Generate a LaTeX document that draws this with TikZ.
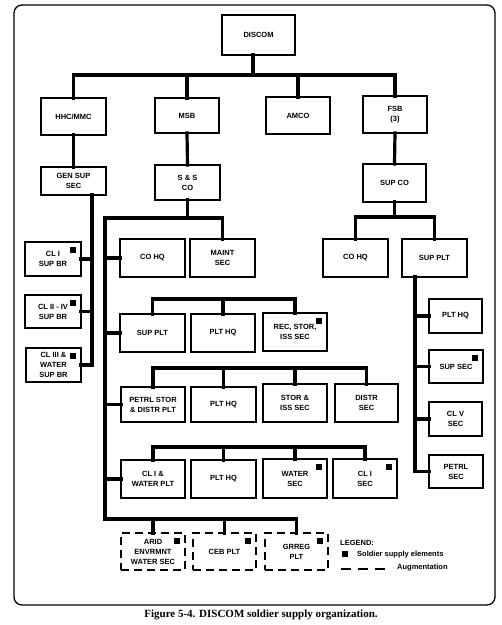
\documentclass[tikz,border=0pt]{standalone}
\usepackage{fontspec}
\setmainfont{Liberation Sans}
\newfontfamily\capfont{Liberation Serif}
\newcommand\orgbox[7][]{\node[box,#1,minimum width={(#5)-(#3)},minimum height={(#6)-(#4)}] (#2) at ({(#3+#5)/2},{(#4+#6)/2}) {#7};}
\newcommand\orgmark[1]{\fill (#1.north east) ++(-5,5) rectangle ++(-6,6);}
\begin{document}
\begin{tikzpicture}[x=1pt,y=-1pt,
  box/.style={draw, line width=1.2pt, inner sep=1pt, outer sep=0pt, align=center,
    font=\fontsize{7.5}{10}\selectfont\bfseries},
  conn/.style={line width=3.2pt, line cap=rect},
  aug/.style={dash pattern=on 8pt off 5pt},
  lbl/.style={inner sep=0pt, anchor=west, font=\fontsize{7.5}{9}\selectfont\bfseries}]
\useasboundingbox (0,0) rectangle (502,625);
\draw[line width=1.3pt, rounded corners=8pt] (14,5) rectangle (495,605);

% boxes
\orgbox{discom}{222}{15}{295}{55}{DISCOM}
\orgbox{hhc}{41}{98}{106}{135}{HHC/MMC}
\orgbox{msb}{155}{98}{219}{133}{MSB}
\orgbox{amco}{266}{97}{330}{134}{AMCO}
\orgbox{fsb}{363}{96}{427}{133}{FSB\\(3)}
\orgbox{gensup}{41}{167}{106}{195}{GEN SUP\\SEC}
\orgbox{sands}{155}{165}{220}{200}{S \& S\\CO}
\orgbox{supco}{363}{164}{426}{202}{SUP CO}
\orgbox{cla}{25}{242}{81}{276}{CL I\\SUP BR}
\orgbox{clb}{25}{295}{81}{328}{CL II - IV\\SUP BR}
\orgbox{clc}{26}{348}{81}{382}{CL III \&\\WATER\\SUP BR}
\orgbox{cohqa}{120}{239}{185}{277}{CO HQ}
\orgbox{maint}{190}{239}{255}{277}{MAINT\\SEC}
\orgbox{suppla}{120}{314}{185}{352}{SUP PLT}
\orgbox{plthqa}{191}{314}{255}{352}{PLT HQ}
\orgbox{recstor}{263}{313}{327}{351}{REC, STOR,\\ISS SEC}
\orgbox{petrlstor}{121}{387}{185}{422}{PETRL STOR\\\& DISTR PLT}
\orgbox{plthqb}{191}{387}{256}{422}{PLT HQ}
\orgbox{storiss}{263}{384}{327}{422}{STOR \&\\ISS SEC}
\orgbox{distr}{335}{384}{398}{422}{DISTR\\SEC}
\orgbox{clwater}{121}{460}{185}{498}{CL I \&\\WATER PLT}
\orgbox{plthqc}{191}{460}{256}{498}{PLT HQ}
\orgbox{watersec}{263}{459}{327}{498}{WATER\\SEC}
\orgbox{clisec}{333}{459}{397}{498}{CL I\\SEC}
\orgbox[aug]{arid}{121}{533}{185}{570}{ARID\\ENVRMNT\\WATER SEC}
\orgbox[aug]{ceb}{193}{533}{256}{570}{CEB PLT}
\orgbox[aug]{grreg}{265}{533}{328}{570}{GRREG\\PLT}
\orgbox{cohqb}{323}{239}{388}{277}{CO HQ}
\orgbox{supplb}{402}{239}{467}{277}{SUP PLT}
\orgbox{plthqd}{429}{299}{482}{333}{PLT HQ}
\orgbox{supsec}{429}{350}{483}{383}{SUP SEC}
\orgbox{clv}{429}{402}{482}{436}{CL V\\SEC}
\orgbox{petrlsec}{429}{455}{483}{488}{PETRL\\SEC}

% marks
\foreach \n in {cla,clb,clc,recstor,watersec,clisec,arid,ceb,grreg,supsec} {\orgmark{\n}}

% connectors: top level
\draw[conn] (discom.south -| 253,0) -- (253,75);
\draw[conn] (hhc.north) |- (fsb.north |- 0,75) -- (fsb.north);
\draw[conn] (msb.north) -- (msb.north |- 0,75);
\draw[conn] (amco.north) -- (amco.north |- 0,75);
\draw[conn] (hhc.south) -- (gensup.north);
\draw[conn] (msb.south) -- (sands.north);
\draw[conn] (fsb.south) -- (supco.north);

% GEN SUP SEC
\draw[conn] (gensup.south -| 92,0) |- (clc.east);
\draw[conn] (cla.east) -- (cla.east -| 92,0);
\draw[conn] (clb.east) -- (clb.east -| 92,0);

% S & S CO
\draw[conn] (sands.south) -- (sands.south |- 0,218);
\draw[conn] (maint.north) |- (105,218) -- (105,519) -| (grreg.north);
\draw[conn] (arid.north) -- (arid.north |- 0,519);
\draw[conn] (ceb.north) -- (ceb.north |- 0,519);
\draw[conn] (cohqa.west) -- (cohqa.west -| 105,0);
\draw[conn] (suppla.west) -- (suppla.west -| 105,0);
\draw[conn] (petrlstor.west) -- (petrlstor.west -| 105,0);
\draw[conn] (clwater.west) -- (clwater.west -| 105,0);

\draw[conn] (suppla.north) |- (recstor.north |- 0,299) -- (recstor.north);
\draw[conn] (plthqa.north) -- (plthqa.north |- 0,299);
\draw[conn] (petrlstor.north) |- (distr.north |- 0,368) -- (distr.north);
\draw[conn] (plthqb.north) -- (plthqb.north |- 0,368);
\draw[conn] (storiss.north) -- (storiss.north |- 0,368);
\draw[conn] (clwater.north) |- (clisec.north |- 0,447) -- (clisec.north);
\draw[conn] (plthqc.north) -- (plthqc.north |- 0,447);
\draw[conn] (watersec.north) -- (watersec.north |- 0,447);

% FSB
\draw[conn] (supco.south) -- (supco.south |- 0,217);
\draw[conn] (cohqb.north) |- (supplb.north |- 0,217) -- (supplb.north);
\draw[conn] (supplb.south -| 415,0) |- (petrlsec.west);
\draw[conn] (plthqd.west) -- (plthqd.west -| 415,0);
\draw[conn] (supsec.west) -- (supsec.west -| 415,0);
\draw[conn] (clv.west) -- (clv.west -| 415,0);

% legend
\node[lbl] (leg) at (340,543) {LEGEND:};
\fill (342,551) rectangle (348,557);
\node[lbl] (legsq) at (357,555) {Soldier supply elements};
\coordinate (la) at (341,569);
\coordinate (lb) at (388,569);
\draw[line width=1.1pt, dash pattern=on 10pt off 7pt] (la) -- (lb);
\node[lbl] (legaug) at (397,568) {Augmentation};

% caption
\node[font=\capfont\bfseries\fontsize{11}{13}\selectfont, inner sep=0pt] (cap) at (261,615) {Figure 5-4. DISCOM soldier supply organization.};
\end{tikzpicture}
\end{document}
